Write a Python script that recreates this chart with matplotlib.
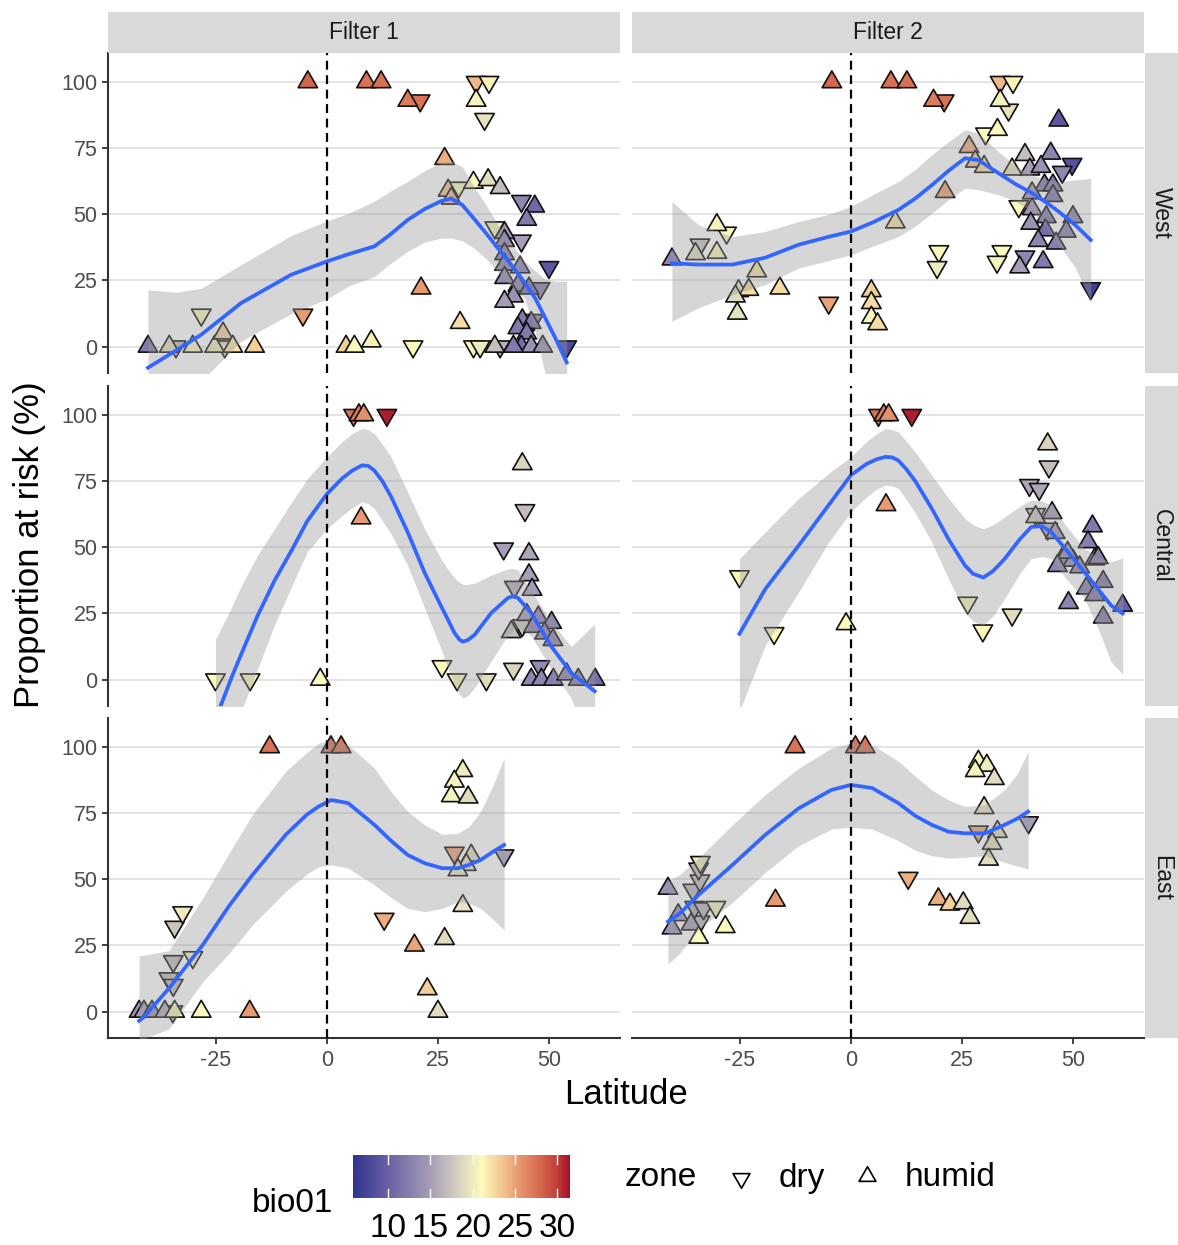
import numpy as np
import matplotlib.pyplot as plt
from matplotlib.colors import LinearSegmentedColormap, Normalize
from matplotlib.path import Path
from matplotlib.lines import Line2D
from matplotlib.patches import Rectangle

plt.rcParams['font.family'] = ['Liberation Sans', 'DejaVu Sans']
plt.rcParams['axes.unicode_minus'] = False

# ---------------- data ----------------
# zone codes: d = dry, h = humid

# West / Filter 1
west_f1_lat = [-40.3, -35.5, -34.0, -30.2, -28.3, -25.3, -23.4, -23.0, -21.2, -16.3,
               -5.4, -4.3, 4.3, 6.2, 10.0, 8.9, 12.2, 18.2, 21.0, 21.2,
               19.4, 26.5, 27.3, 28.0, 29.5, 30.0, 33.0, 33.6, 33.6, 36.5,
               35.5, 36.3, 39.0, 33.0, 34.5, 37.8, 39.0, 37.8, 40.0, 43.8,
               46.8, 45.0, 43.8, 40.0, 40.0, 40.0, 43.5, 50.0, 40.0, 43.0,
               45.5, 48.0, 42.0, 40.0, 44.0, 46.0, 46.5, 43.0, 45.0, 43.8,
               46.0, 48.6, 54.0, 42.0]
west_f1_risk = [0, 0, 0, 0, 12, 0, 5, 0, 0, 0,
                12, 100, 0, 0, 2, 100, 100, 93, 93, 22,
                0, 71, 59, 56, 60, 9, 62, 93, 100, 100,
                86, 63, 60, 0, 0, 0, 0, 45, 43, 55,
                53, 48, 40, 40, 35, 31, 30, 30, 26, 23,
                22, 22, 19, 17, 10, 9, 10, 7, 5, 0,
                0, 0, 0, 0]
west_f1_bio = [12, 19, 17, 21, 21, 20, 23, 19.5, 22, 23,
               25.5, 28, 23, 21, 21.5, 27.5, 27.5, 27, 27.5, 25.5,
               21, 24.5, 23.5, 24, 21, 22.5, 21, 20.5, 24, 21.5,
               19.5, 19, 17, 21, 20, 17, 16, 20.5, 14, 13,
               10.5, 12, 15, 13, 13, 13, 13, 9, 13.5, 13,
               11, 12.5, 14, 15, 12, 12, 13, 12, 12, 11,
               14, 14, 8, 12]
west_f1_zone = "hhdhdhhdhh" "dhhhhhhhdh" "dhhhdhhhdd" "dhhddhddhd" "hhdhhhhdhh" "hdhhhhdhhh" "hhdh"
west_f1_fit_lat = [-40.3, -34, -28.3, -19.3, -8, 0, 5, 10.7, 14, 18.2, 22, 25.7, 28, 30.5,
                   33.3, 36, 38.6, 41.5, 44.6, 47, 49.1, 51.5, 54]
west_f1_fit = [-8, -1.5, 4.5, 16.5, 27.2, 32.2, 35, 37.9, 42, 47.9, 52, 55, 56, 53.5,
               48, 42.5, 37, 31, 24, 18, 11, 3, -6]
west_f1_hi = [21.5, 20.5, 22, 31, 42, 47.5, 50.5, 55, 58.5, 62.5, 66.5, 69.5, 70, 68,
              60, 53, 46, 39, 32, 28.5, 25.5, 24.7, 24.7]
west_f1_lo = [-38, -24, -13, 2, 12.5, 18, 23, 26.5, 31, 36, 39.5, 41, 41, 40,
              37, 33, 28, 23, 18, 5, -10, -25, -40]

# West / Filter 2
west_f2_lat = [-40.3, -35.0, -34.0, -30.2, -28.0, -30.2, -21.2, -25.3, -23.0, -26.0,
               -25.6, -16.0, -5.0, -4.3, 4.6, 4.6, 4.6, 6.0, 9.0, 12.6,
               18.6, 21.0, 21.2, 10.0, 19.8, 19.4, 26.6, 28.0, 30.0, 30.3,
               33.0, 33.6, 36.5, 33.6, 35.5, 36.3, 39.2, 40.3, 45.0, 46.8,
               49.8, 47.6, 42.8, 43.6, 45.5, 40.8, 45.5, 37.8, 40.8, 44.0,
               50.0, 40.5, 43.8, 48.5, 42.2, 46.2, 34.0, 32.9, 39.2, 38.0,
               43.3, 54.0]
west_f2_risk = [33, 35, 38.5, 46, 43, 35.5, 28.5, 21, 21.5, 19,
                12.5, 22, 16.5, 100, 21, 16.5, 11, 8.5, 100, 100,
                93, 93, 58.5, 47, 36, 30, 75.5, 70, 68, 80.5,
                82, 100, 100, 93, 89.5, 67, 72.5, 67, 73, 85.5,
                69, 66, 68, 61, 61, 58, 57, 53, 52, 49,
                49, 46.5, 44, 43.5, 40, 39, 36, 32, 34, 30,
                32, 22]
west_f2_bio = [13, 19, 17.5, 20.5, 21, 21, 22, 20, 22.5, 19,
               19.5, 22.5, 25, 28, 23, 22.5, 21, 22.5, 27.5, 27.5,
               27, 27.5, 25, 22, 21, 20, 24.5, 23.5, 22.5, 21,
               21, 24, 21.5, 20.5, 19.5, 19.5, 17, 15, 13, 9,
               8.5, 13, 14, 12, 12, 14.5, 12, 21, 14.5, 12,
               13, 14, 11, 12.5, 13, 12.5, 21, 20.5, 13, 15,
               12, 7]
west_f2_zone = "hhdhdhhhhh" "hhdhhhhhhh" "hdhhddhhhd" "hddhdhhhhh" "ddhhhhhdhh" "hhhhhhdddh" "hd"
west_f2_fit_lat = [-40.3, -34.3, -26.7, -19.3, -11.8, -5, 0, 5, 10.7, 14.5, 18.2, 22, 25.7,
                   28.7, 33.3, 37, 40.8, 44, 46.8, 50.5, 54]
west_f2_fit = [31.5, 31, 31, 33.6, 38.5, 41.5, 43.5, 47, 51.7, 56, 61, 66.5, 71.2,
               70.5, 65.5, 61.5, 58, 54.5, 51, 46, 40.3]
west_f2_hi = [54.8, 46, 41.6, 43.5, 47.3, 50, 53, 57.5, 62.4, 67, 72.5, 77.5, 82,
              80.6, 73.6, 68.5, 64.9, 63, 62.4, 63, 63.6]
west_f2_lo = [9.6, 14.7, 19.6, 23.4, 29.7, 32.5, 34.7, 38, 41.6, 45.5, 50.4, 55.5, 59.9,
              59.3, 57.4, 55, 51, 45.5, 38.5, 30, 17]

# Central / Filter 1
central_f1_lat = [-25.1, -17.3, -1.5, 6.0, 7.2, 8.3, 13.5, 7.7, 44.0, 44.6,
                  39.8, 45.5, 45.5, 42.2, 46.2, 45.0, 47.6, 50.6, 44.0, 41.5,
                  46.5, 49.0, 50.9, 25.9, 29.3, 35.9, 42.0, 48.0, 46.0, 48.3,
                  51.0, 54.0, 56.6, 60.4]
central_f1_risk = [0, 0, 0, 100, 100, 100, 100, 61, 81.5, 64,
                   49.5, 47.5, 39.5, 35, 34, 24.5, 23.5, 21.5, 20.5, 18,
                   20, 17.5, 15, 5, 0, 0, 4, 5, 0, 0,
                   0, 2, 0, 0]
central_f1_bio = [21, 21, 21, 27.5, 27, 26, 31, 25.5, 18.5, 17,
                  15, 15.5, 15, 16, 15, 15, 13, 13, 18, 17,
                  13, 13, 13, 21, 21, 19, 18.5, 13.5, 13, 13,
                  12.5, 13, 12.5, 11]
central_f1_zone = "ddhdhhdhhd" "dhhdhhhhdh" "hhhdddddhh" "hhhh"
central_f1_fit_lat = [-25.1, -21.3, -19.3, -15.6, -11.8, -8, -4.4, 0, 3.4, 5.7, 7.9, 9.3,
                      10.7, 12.5, 14.5, 18.2, 22, 25.7, 27.3, 28.7, 29.8, 30.6, 31.8, 33.3,
                      37, 40.8, 41.9, 43, 46, 50.5, 55, 60.3]
central_f1_fit = [-15, 1.5, 9.6, 24.2, 37.4, 48.7, 60, 70.2, 76, 79, 81, 80.8,
                  79, 75, 69, 55.7, 40.4, 27.8, 22.5, 17.7, 15.2, 14.3, 15, 17,
                  25.2, 30.9, 31.5, 30.9, 25.2, 12.6, 2.5, -4.4]
central_f1_hi = [15.2, 28, 35.4, 47, 57, 67, 75.9, 84.2, 90, 93, 94.9, 94.5,
                 93, 89, 84, 70.9, 57, 45.6, 41.5, 38.5, 36.8, 36, 36, 36.5,
                 39.5, 41.9, 42, 41.5, 33.5, 22, 12.5, 21]
central_f1_lo = [-45, -22, -12, 4, 20.6, 35, 48.4, 57, 62, 65, 67.2, 66.5,
                 64.6, 60, 55, 43.1, 27, 11.6, 4, -2, -5.5, -7, -6, -3,
                 7, 17, 18.5, 19.5, 16.5, 4, -7, -30]

# Central / Filter 2
central_f2_lat = [-25.1, -17.3, -1.1, 6.2, 7.4, 8.5, 13.7, 7.9, 44.3, 44.6,
                  40.2, 42.4, 41.6, 41.6, 45.3, 46.0, 44.3, 54.4, 53.4, 47.5,
                  50.0, 54.9, 55.7, 51.5, 48.8, 46.5, 56.8, 53.0, 54.9, 49.0,
                  56.8, 61.2, 26.3, 29.7, 36.3]
central_f2_risk = [39, 17.5, 21, 100, 100, 100, 100, 66, 89, 80.5,
                   73.5, 72, 61.5, 62.5, 63, 55.5, 57, 58, 52, 45.5,
                   45, 45.5, 46, 42.5, 48, 43, 37, 34.5, 32, 29,
                   23.5, 28, 29, 18.5, 24.5]
central_f2_bio = [21, 21, 21, 27.5, 27, 26, 31, 25.5, 18.5, 17,
                  15.5, 15.5, 17.5, 18, 15, 14.5, 16, 12, 12.5, 13,
                  14, 12.5, 12.5, 13, 14, 13, 12, 12.5, 12, 13,
                  12, 10, 21, 21, 19]
central_f2_zone = "ddhdhhdhhd" "ddhdhhdhhh" "hhhhhhhhhh" "hhddd"
central_f2_fit_lat = [-25.1, -19.3, -11.8, -5, 0, 3.5, 5.8, 7.8, 9.3, 10.7, 12.5, 14.5,
                      18.2, 22, 25.7, 27.5, 29.8, 32, 34.6, 38, 40.6, 43, 45.1, 48.5,
                      52.6, 56, 58.6, 61.2]
central_f2_fit = [17.3, 34.2, 50.6, 66, 77.3, 81.5, 83.3, 84.2, 84, 82.8, 79.5, 75,
                  64.7, 53, 43.1, 40, 38.6, 41, 45.6, 53, 57.7, 58, 55.8, 49,
                  40.6, 33.5, 28, 25]
central_f2_hi = [45.7, 55.8, 68.4, 78, 84.2, 90, 93, 94.9, 94.5, 93.7, 90, 86,
                 77.3, 68.5, 60.9, 58.5, 57, 58.5, 61.5, 65.5, 67.9, 67.5, 65.9, 58,
                 49.5, 46, 44.5, 46]
central_f2_lo = [-12, 12.9, 33, 52, 63.4, 69, 72, 73.5, 73.2, 72.2, 68, 63,
                 52, 38, 25.5, 22, 20.5, 24, 30.6, 40, 45.7, 46.5, 45.7, 38,
                 30.6, 18, 6.6, 2]

# East / Filter 1
east_f1_lat = [-42.3, -41.2, -39.4, -36.5, -34.7, -34.3, -28.3, -17.4, -35.6, -34.6,
               -34.6, -30.2, -34.3, -32.5, -12.9, 0.9, 3.2, 12.9, 19.7, 26.5,
               22.6, 25.0, 30.6, 30.6, 28.7, 28.0, 31.8, 28.7, 32.5, 31.4,
               29.5, 39.9]
east_f1_risk = [0, 0, 0, 0, 0, 0, 0, 0, 12.5, 10,
                19, 20.5, 32, 37.5, 100, 100, 100, 35, 25, 27.5,
                8.5, 0, 40, 91, 87, 81.5, 81, 60, 59, 55.5,
                53.5, 59]
east_f1_bio = [14, 15, 14, 16, 16.5, 20.5, 21, 25.5, 17, 17,
               17, 20.5, 17.5, 20, 27.5, 27.5, 27.5, 24.5, 25, 19,
               23, 19, 19.5, 20, 20.5, 20.5, 19, 25, 19, 19.5,
               20, 15]
east_f1_zone = "hhhhdhhhdd" "ddddhhhdhh" "hhhhhhhdhh" "hd"
east_f1_fit_lat = [-42.3, -41.2, -35.6, -28, -22, -16.8, -9.3, -4.5, -1.8, 1, 4.8, 10.7,
                   14.5, 18.2, 22, 26, 29.5, 32, 34.6, 37, 39.9]
east_f1_fit = [-3.5, -2, 8.7, 25.1, 40, 51.6, 66.8, 74.5, 77.6, 80, 78.8, 70.6,
               64.5, 59.2, 56.1, 54.2, 54.2, 55.5, 57.3, 60, 63]
east_f1_hi = [21, 21.3, 23, 42.8, 60, 74.4, 90.8, 98, 101.5, 102.8, 100.9, 92,
              83, 75.6, 70.6, 67, 67.4, 70, 75.6, 84, 95.8]
east_f1_lo = [-12, -10.3, -6.6, 11.2, 22, 32.7, 45.4, 52, 54.8, 55.5, 54.2, 47.9,
              43, 39, 37.8, 39, 41.5, 41, 39, 35.5, 30.8]

# East / Filter 2
east_f2_lat = [-41.2, -38.9, -40.3, -36.0, -34.0, -35.2, -33.2, -35.6, -34.0, -34.3,
               -33.9, -30.4, -34.3, -28.3, -17.0, -12.6, 1.0, 3.2, 12.9, 19.7,
               22.3, 25.3, 26.8, 28.7, 30.6, 28.0, 32.3, 30.0, 28.7, 33.0,
               31.8, 31.0, 40.0]
east_f2_risk = [46.5, 36.5, 31.5, 33, 34, 39.5, 39, 46, 49.5, 54,
                56.5, 39.5, 28, 32, 42, 100, 100, 100, 50.5, 42.5,
                40.5, 41, 35.5, 94.5, 93, 91, 88, 77, 68, 68,
                63.5, 57.5, 71.5]
east_f2_bio = [14, 14, 14, 15, 16.5, 15.5, 16.5, 16.5, 17, 17,
               20, 20.5, 21, 21, 25.5, 27.5, 27.5, 27.5, 24.5, 24.5,
               23, 19, 19, 21, 20, 20.5, 19, 19.5, 25, 19,
               19, 19, 15]
east_f2_zone = "hhhhdddddd" "ddhhhhhhdh" "hhhhhhhhdh" "hhd"
east_f2_fit_lat = [-41.2, -38.4, -34.3, -26.7, -19.3, -11.8, -4.4, 0, 4.8, 10.7, 14.5,
                   18.2, 22, 25.7, 30.2, 34.6, 37.5, 39.9]
east_f2_fit = [34, 37.3, 44.1, 55.4, 66.8, 76.8, 83.8, 85.7, 84.5, 78.8, 74,
               70.6, 68, 67.4, 67.4, 70.6, 73, 75.6]
east_f2_hi = [49.2, 52, 58, 70.6, 82, 92, 99.6, 101.5, 100.9, 94.6, 89,
              83.8, 80, 77.5, 78.2, 83.8, 90, 98.4]
east_f2_lo = [17.9, 22.3, 31.2, 41.2, 52.6, 62.7, 69, 69.7, 69, 64.6, 61,
              58.9, 58, 58.3, 58.9, 56.4, 55, 53.9]

rows = ["West", "Central", "East"]
cols = ["Filter 1", "Filter 2"]
y_ticks = [0, 25, 50, 75, 100]
x_ticks = [-25, 0, 25, 50]
bar_ticks = [10, 15, 20, 25, 30]

# colour scale for bio01
bio_min, bio_max = 5.86, 31.5
cmap_vals = [5.86, 10, 15, 18, 21.1, 25, 28, 30, 31.5]
cmap_cols = ['#32348f', '#6a62a6', '#a79db6', '#d3ccbf', '#fcfbbc',
             '#eba477', '#d5694f', '#c1403a', '#a5102b']

panels = {
    ("West", "Filter 1"): (west_f1_lat, west_f1_risk, west_f1_bio, west_f1_zone,
                           west_f1_fit_lat, west_f1_fit, west_f1_lo, west_f1_hi),
    ("West", "Filter 2"): (west_f2_lat, west_f2_risk, west_f2_bio, west_f2_zone,
                           west_f2_fit_lat, west_f2_fit, west_f2_lo, west_f2_hi),
    ("Central", "Filter 1"): (central_f1_lat, central_f1_risk, central_f1_bio, central_f1_zone,
                              central_f1_fit_lat, central_f1_fit, central_f1_lo, central_f1_hi),
    ("Central", "Filter 2"): (central_f2_lat, central_f2_risk, central_f2_bio, central_f2_zone,
                              central_f2_fit_lat, central_f2_fit, central_f2_lo, central_f2_hi),
    ("East", "Filter 1"): (east_f1_lat, east_f1_risk, east_f1_bio, east_f1_zone,
                           east_f1_fit_lat, east_f1_fit, east_f1_lo, east_f1_hi),
    ("East", "Filter 2"): (east_f2_lat, east_f2_risk, east_f2_bio, east_f2_zone,
                           east_f2_fit_lat, east_f2_fit, east_f2_lo, east_f2_hi),
}

# ---------------- figure ----------------
W, H = 1178, 1245
fig = plt.figure(figsize=(W / 100, H / 100), dpi=100)


def fx(px):
    return px / W


def fy(py):
    return 1 - py / H


norm = Normalize(bio_min, bio_max)
cmap = LinearSegmentedColormap.from_list(
    "bio", [((v - bio_min) / (bio_max - bio_min), c) for v, c in zip(cmap_vals, cmap_cols)])

codes = [Path.MOVETO, Path.LINETO, Path.LINETO, Path.CLOSEPOLY]
tri_up = Path([(0, 2), (-1.732, -1), (1.732, -1), (0, 2)], codes)
tri_down = Path([(0, -2), (-1.732, 1), (1.732, 1), (0, -2)], codes)

col_left = [108, 632]
col_w = 512
row_top = [53, 386, 718]
row_h = 320
strip_col = '#d9d9d9'

for r, rname in enumerate(rows):
    for c, cname in enumerate(cols):
        lat, risk, bio, zone, flat, fit, lo, hi = panels[(rname, cname)]
        lat = np.array(lat)
        risk = np.array(risk)
        bio = np.array(bio)
        zone = np.array(list(zone))

        ax = fig.add_axes([fx(col_left[c]), fy(row_top[r] + row_h), col_w / W, row_h / H])
        ax.set_xlim(-49.3, 66.0)
        ax.set_ylim(-10, 111)
        ax.set_yticks(y_ticks)
        ax.set_xticks(x_ticks)
        ax.yaxis.grid(True, color='#e3e3e3', lw=1.4)
        ax.set_axisbelow(True)

        for z, mk in (("d", tri_down), ("h", tri_up)):
            m = zone == z
            ax.scatter(lat[m], risk[m], c=bio[m], cmap=cmap, norm=norm, marker=mk,
                       s=260, edgecolors='#111111', linewidths=1.2, zorder=2)

        ax.fill_between(flat, lo, hi, color='#999999', alpha=0.4, lw=0, zorder=3)
        ax.plot(flat, fit, color='#3366FF', lw=2.7, zorder=4, solid_joinstyle='round')
        ax.axvline(0, color='black', lw=1.6, ls=(0, (4, 2.5)), zorder=5)

        for s in ax.spines.values():
            s.set_visible(False)
        ax.tick_params(length=0, labelleft=False, labelbottom=False)
        if c == 0:
            ax.spines['left'].set_visible(True)
            ax.spines['left'].set_color('#333333')
            ax.spines['left'].set_linewidth(1.5)
            ax.tick_params(axis='y', length=4.5, width=1.3, color='#333333',
                           labelleft=True, labelsize=15.5, labelcolor='#4d4d4d', pad=3)
        if r == 2:
            ax.spines['bottom'].set_visible(True)
            ax.spines['bottom'].set_color('#333333')
            ax.spines['bottom'].set_linewidth(1.5)
            ax.tick_params(axis='x', length=4.5, width=1.3, color='#333333',
                           labelbottom=True, labelsize=15.5, labelcolor='#4d4d4d', pad=4)

        if r == 0:
            fig.add_artist(Rectangle((fx(col_left[c]), fy(53)), col_w / W, 41 / H,
                                     transform=fig.transFigure, color=strip_col, lw=0))
            fig.text(fx(col_left[c] + col_w / 2), fy(32.5), cname, ha='center', va='center',
                     fontsize=16.5, color='#1a1a1a')
    fig.add_artist(Rectangle((fx(1145), fy(row_top[r] + row_h)), 33 / W, row_h / H,
                             transform=fig.transFigure, color=strip_col, lw=0))
    fig.text(fx(1161.5), fy(row_top[r] + row_h / 2), rname, ha='center', va='center',
             rotation=-90, fontsize=16.5, color='#1a1a1a')

fig.text(fx(30), fy(545), "Proportion at risk (%)", rotation=90, ha='center', va='center',
         fontsize=25)
fig.text(fx(626), fy(1094), "Latitude", ha='center', va='center', fontsize=25)

# ---------------- legends ----------------
fig.text(fx(252), fy(1204), "bio01", ha='left', va='center', fontsize=24)
cax = fig.add_axes([fx(353), fy(1198), 217 / W, 43 / H])
grad = np.linspace(bio_min, bio_max, 300)[None, :]
cax.imshow(grad, aspect='auto', cmap=cmap, norm=norm, extent=[bio_min, bio_max, 0, 1])
cax.set_xlim(bio_min, bio_max)
cax.set_ylim(0, 1)
cax.axis('off')
for t in bar_ticks:
    cax.plot([t, t], [0, 0.2], color='white', lw=1)
    cax.plot([t, t], [0.8, 1], color='white', lw=1)
    cax.text(t, -0.72, str(t), ha='center', va='center', fontsize=24)

fig.text(fx(625), fy(1178), "zone", ha='left', va='center', fontsize=24)
fig.add_artist(Line2D([fx(741)], [fy(1178)], transform=fig.transFigure, marker=tri_down,
                      markersize=14, mfc='white', mec='black', mew=1.2, ls='none'))
fig.text(fx(779), fy(1178), "dry", ha='left', va='center', fontsize=24)
fig.add_artist(Line2D([fx(867)], [fy(1176)], transform=fig.transFigure, marker=tri_up,
                      markersize=14, mfc='white', mec='black', mew=1.2, ls='none'))
fig.text(fx(905), fy(1178), "humid", ha='left', va='center', fontsize=24)

fig.savefig("out.png", dpi=100)
